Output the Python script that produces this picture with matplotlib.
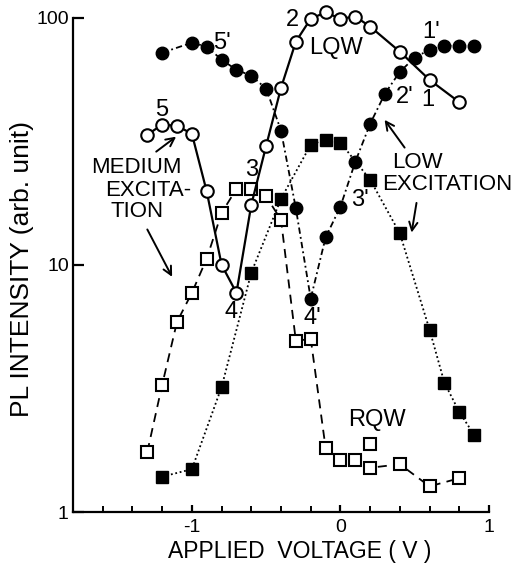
import matplotlib
matplotlib.use("Agg")
import matplotlib.pyplot as plt

plt.rcParams['font.family'] = ['Liberation Sans', 'DejaVu Sans']

# LQW, medium excitation (open circles)
v_lqw_med = [-1.3, -1.2, -1.1, -1.0, -0.9, -0.8, -0.7, -0.6, -0.5, -0.4,
             -0.3, -0.2, -0.1, 0.0, 0.1, 0.2, 0.4, 0.6, 0.8]
i_lqw_med = [33.6, 36.9, 36.5, 33.9, 19.8, 10.0, 7.7, 17.5, 30.3, 52.0,
             80.0, 99.0, 105.0, 99.0, 101.0, 92.0, 72.8, 56.0, 45.5]

# LQW, low excitation (filled circles)
v_lqw_low = [-1.2, -1.0, -0.9, -0.8, -0.7, -0.6, -0.5, -0.4, -0.3, -0.2,
             -0.1, 0.0, 0.1, 0.2, 0.3, 0.4, 0.5, 0.6, 0.7, 0.8, 0.9]
i_lqw_low = [72.1, 79.2, 76.3, 67.6, 61.5, 58.2, 51.6, 34.9, 16.9, 7.3,
             12.9, 17.2, 26.1, 37.2, 49.3, 60.4, 68.9, 74.2, 77.0, 77.0, 77.0]

# RQW, medium excitation (open squares)
v_rqw_med = [-1.3, -1.2, -1.1, -1.0, -0.9, -0.8, -0.7, -0.6, -0.5, -0.4,
             -0.3, -0.2, -0.1, 0.0, 0.1, 0.2, 0.4, 0.6, 0.8]
i_rqw_med = [1.75, 3.27, 5.88, 7.7, 10.6, 16.2, 20.3, 20.3, 18.9, 15.2,
             4.92, 5.02, 1.82, 1.62, 1.62, 1.51, 1.56, 1.27, 1.37]
v_rqw_extra = [0.2]
i_rqw_extra = [1.88]

# RQW, low excitation (filled squares)
v_rqw_low = [-1.2, -1.0, -0.8, -0.6, -0.4, -0.2, -0.1, 0.0, 0.2, 0.4,
             0.6, 0.7, 0.8, 0.9]
i_rqw_low = [1.39, 1.49, 3.2, 9.3, 18.5, 30.6, 32.1, 31.2, 22.1, 13.4,
             5.46, 3.33, 2.54, 2.05]

fig = plt.figure(figsize=(5.19, 5.65), dpi=100)
ax = fig.add_axes([0.1407, 0.0938, 0.8015, 0.875])

ms = 8.5
mew = 1.5
ax.plot(v_rqw_low, i_rqw_low, color='black', lw=1.3, ls=(0, (1, 1.5)),
        marker='s', ms=ms, mfc='black', mec='black', clip_on=False, zorder=3)
ax.plot(v_rqw_med, i_rqw_med, color='black', lw=1.3, ls=(0, (5, 3.5)),
        marker='s', ms=ms, mfc='white', mec='black', mew=mew, clip_on=False, zorder=3)
ax.plot(v_rqw_extra, i_rqw_extra, ls='none', marker='s', ms=ms,
        mfc='white', mec='black', mew=mew, clip_on=False, zorder=3)
ax.plot(v_lqw_low, i_lqw_low, color='black', lw=1.3, ls=(0, (3.5, 1.8, 1, 1.8)),
        marker='o', ms=ms + 0.5, mfc='black', mec='black', clip_on=False, zorder=4)
ax.plot(v_lqw_med, i_lqw_med, color='black', lw=1.6, ls='-',
        marker='o', ms=ms + 0.5, mfc='white', mec='black', mew=mew, clip_on=False, zorder=4)

ax.set_yscale('log')
ax.set_xlim(-1.8, 1.0)
ax.set_ylim(1, 100)
ax.set_yticks([1, 10, 100])
ax.set_yticklabels(['1', '10', '100'])
ax.minorticks_off()
ax.set_xticks([-1, 0, 1])
ax.set_xticklabels(['-1', '0', '1'])
ax.set_xticks([-1.6, -1.4, -1.2, -0.8, -0.6, -0.4, -0.2, 0.2, 0.4, 0.6, 0.8], minor=True)
ax.yaxis.set_minor_locator(matplotlib.ticker.NullLocator())

for side in ['top', 'right']:
    ax.spines[side].set_visible(False)
for side in ['left', 'bottom']:
    ax.spines[side].set_linewidth(1.6)

ax.tick_params(axis='y', which='major', direction='in', length=8, width=1.6,
               labelsize=14, pad=3)
ax.tick_params(axis='x', which='major', direction='in', length=5, width=1.6,
               labelsize=14, pad=5)
ax.tick_params(axis='x', which='minor', direction='in', length=4.5, width=1.4)

# axis titles placed in figure coordinates
fig.text(300 / 519, 7 / 565, 'APPLIED  VOLTAGE ( V )', fontsize=16.5,
         ha='center', va='baseline')
fig.text(22 / 519, 1 - 269 / 565, 'PL INTENSITY (arb. unit)', fontsize=19,
         rotation=90, ha='center', va='center')

fs = 16
# curve labels
ax.text(-1.20, 42.4, '5', fontsize=17, ha='center', va='center')
ax.text(-0.80, 79.2, "5'", fontsize=17, ha='center', va='center')
ax.text(-0.32, 98.0, '2', fontsize=17, ha='center', va='center')
ax.text(-0.03, 75.6, 'LQW', fontsize=17, ha='center', va='center')
ax.text(0.61, 87.8, "1'", fontsize=17, ha='center', va='center')
ax.text(0.43, 47.9, "2'", fontsize=17, ha='center', va='center')
ax.text(0.59, 46.5, '1', fontsize=17, ha='center', va='center')
ax.text(-0.60, 24.2, '3', fontsize=17, ha='center', va='center')
ax.text(-0.735, 6.45, '4', fontsize=17, ha='center', va='center')
ax.text(0.13, 18.3, "3'", fontsize=17, ha='center', va='center')
ax.text(-0.19, 6.1, "4'", fontsize=17, ha='center', va='center')
ax.text(0.243, 2.36, 'RQW', fontsize=17, ha='center', va='center')

# excitation notes
ax.text(-1.376, 24.7, 'MEDIUM', fontsize=fs, ha='center', va='center')
ax.text(-1.295, 19.9, 'EXCITA-', fontsize=fs, ha='center', va='center')
ax.text(-1.369, 16.5, 'TION', fontsize=fs, ha='center', va='center')
ax.text(0.519, 25.9, 'LOW', fontsize=fs, ha='center', va='center')
ax.text(0.722, 21.1, 'EXCITATION', fontsize=fs, ha='center', va='center')

arrow = dict(arrowstyle='->', color='black', lw=1.4, mutation_scale=15,
             shrinkA=0, shrinkB=0)
ax.annotate('', xy=(-1.106, 33.0), xytext=(-1.24, 28.7), arrowprops=arrow)
ax.annotate('', xy=(-1.133, 8.94), xytext=(-1.30, 13.9), arrowprops=arrow)
ax.annotate('', xy=(0.297, 38.6), xytext=(0.432, 29.8), arrowprops=arrow)
ax.annotate('', xy=(0.479, 13.5), xytext=(0.512, 17.8), arrowprops=arrow)

fig.savefig('out.png', dpi=100)
